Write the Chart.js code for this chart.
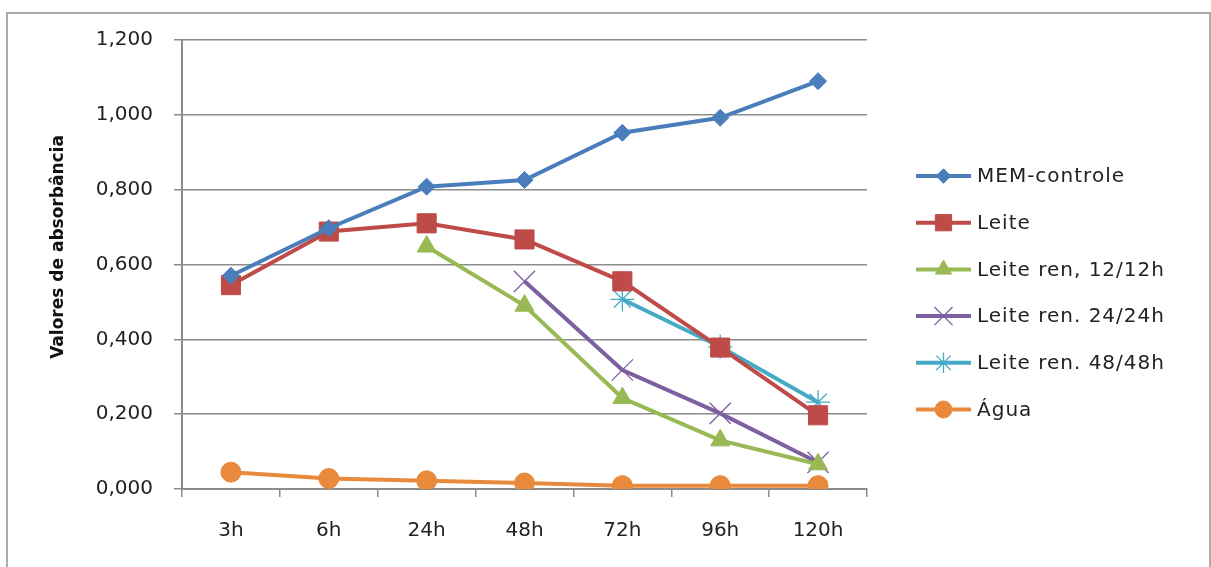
<!DOCTYPE html>
<html>
<head>
<meta charset="utf-8">
<script src="https://cdn.jsdelivr.net/npm/chart.js@4.4.0/dist/chart.umd.min.js"></script>
<style>
  html, body { margin: 0; padding: 0; background: #fff; }
  #wrap { width: 1211px; height: 567px; position: relative; }
</style>
</head>
<body>
<div id="wrap"><canvas id="absChart" width="1211" height="567"></canvas></div>
<script>
// dados
const tempos = ['3h', '6h', '24h', '48h', '72h', '96h', '120h'];
const memControle = [0.570, 0.697, 0.808, 0.826, 0.952, 0.992, 1.090];
const leite = [0.545, 0.688, 0.710, 0.667, 0.555, 0.378, 0.197];
const leiteRen12 = [null, null, 0.648, 0.490, 0.243, 0.130, 0.066];
const leiteRen24 = [null, null, null, 0.555, 0.318, 0.202, 0.071];
const leiteRen48 = [null, null, null, null, 0.507, 0.380, 0.232];
const agua = [0.045, 0.028, 0.022, 0.016, 0.009, 0.009, 0.009];
const yTicks = [0, 0.2, 0.4, 0.6, 0.8, 1.0, 1.2];
const yTitulo = 'Valores de absorbância';

const fontFam = "'DejaVu Sans', sans-serif";

function serie(label, data, color, style, radius, bw) {
    return {
        label: label,
        data: data,
        borderColor: color,
        backgroundColor: color,
        borderWidth: 4,
        pointStyle: style,
        pointRadius: radius,
        pointHoverRadius: radius,
        pointBorderWidth: bw,
        pointBorderColor: color,
        pointBackgroundColor: color,
        tension: 0,
        spanGaps: false
    };
}

const datasets = [
    serie('MEM-controle', memControle, '#4A7EBB', 'rectRot', 8.5, 1),
    serie('Leite', leite, '#BE4B48', 'rect', 13.5, 1),
    serie('Leite ren, 12/12h', leiteRen12, '#98B954', 'triangle', 11, 1),
    serie('Leite ren. 24/24h', leiteRen24, '#7D60A0', 'crossRot', 15, 1.3),
    serie('Leite ren. 48/48h', leiteRen48, '#46AAC5', 'star', 12, 1.3),
    serie('Água', agua, '#E8893C', 'circle', 10, 1)
];

// moldura externa
const framePlugin = {
    id: 'frame',
    beforeDraw(chart) {
        const ctx = chart.ctx;
        ctx.save();
        ctx.strokeStyle = '#ababab';
        ctx.lineWidth = 2;
        ctx.beginPath();
        ctx.moveTo(7, 567);
        ctx.lineTo(7, 13);
        ctx.lineTo(1210, 13);
        ctx.lineTo(1210, 567);
        ctx.stroke();
        ctx.restore();
    }
};

// titulo do eixo y
const yTitlePlugin = {
    id: 'yTitle',
    afterDraw(chart) {
        const ctx = chart.ctx;
        ctx.save();
        ctx.translate(59, 247);
        ctx.rotate(-Math.PI / 2);
        ctx.fillStyle = '#111';
        ctx.font = 'bold 17px ' + fontFam;
        ctx.textAlign = 'center';
        ctx.textBaseline = 'middle';
        ctx.fillText(yTitulo, 0, 0);
        ctx.restore();
    }
};

// legenda no estilo Excel: linha com marcador no meio
const legendPlugin = {
    id: 'excelLegend',
    afterDraw(chart) {
        const ctx = chart.ctx;
        const x0 = 916, x1 = 971, yStart = 176, step = 46.7;
        ctx.save();
        chart.data.datasets.forEach((ds, i) => {
            const y = yStart + i * step;
            ctx.strokeStyle = ds.borderColor;
            ctx.fillStyle = ds.backgroundColor;
            ctx.lineWidth = 4;
            ctx.beginPath();
            ctx.moveTo(x0, y);
            ctx.lineTo(x1, y);
            ctx.stroke();
            ctx.lineWidth = ds.pointBorderWidth;
            Chart.helpers.drawPoint(ctx, {
                pointStyle: ds.pointStyle,
                radius: ds.pointRadius * 0.85,
                borderWidth: ds.pointBorderWidth,
                rotation: 0
            }, (x0 + x1) / 2, y);
            ctx.fillStyle = '#222';
            ctx.font = '20px ' + fontFam;
            ctx.letterSpacing = '1px';
            ctx.textBaseline = 'middle';
            ctx.textAlign = 'left';
            ctx.fillText(ds.label, 977, y + 1);
            ctx.letterSpacing = '0px';
        });
        ctx.restore();
    }
};

const ctx = document.getElementById('absChart').getContext('2d');
new Chart(ctx, {
    type: 'line',
    data: { labels: tempos, datasets: datasets },
    plugins: [framePlugin, yTitlePlugin, legendPlugin],
    options: {
        responsive: false,
        animation: false,
        events: [],
        layout: { padding: { left: 0, top: 40, right: 344, bottom: 0 } },
        plugins: {
            legend: { display: false },
            tooltip: { enabled: false }
        },
        scales: {
            x: {
                offset: true,
                grid: {
                    display: true,
                    offset: true,
                    drawOnChartArea: false,
                    drawTicks: true,
                    tickLength: 8,
                    color: '#8c8c8c',
                    lineWidth: 1.5
                },
                border: { display: true, color: '#8c8c8c', width: 2 },
                ticks: {
                    color: '#222',
                    font: { family: fontFam, size: 20 },
                    padding: 22
                },
                afterFit(scale) { scale.height = 78; }
            },
            y: {
                min: 0,
                max: 1.2,
                afterBuildTicks(scale) {
                    scale.ticks = yTicks.map(v => ({ value: v }));
                },
                grid: {
                    color: '#8c8c8c',
                    lineWidth: 1.5,
                    tickLength: 8
                },
                border: { display: true, color: '#8c8c8c', width: 2 },
                ticks: {
                    color: '#222',
                    font: { family: fontFam, size: 20 },
                    padding: 21,
                    callback: v => v.toFixed(3).replace('.', ',')
                },
                afterFit(scale) { scale.width = 182; }
            }
        }
    }
});
</script>
</body>
</html>
